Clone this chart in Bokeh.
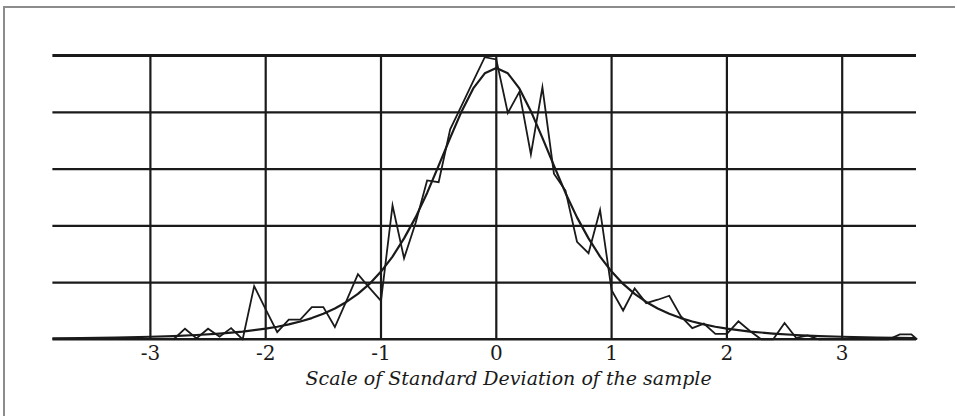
from bokeh.plotting import figure
from bokeh.models import Range1d, FixedTicker, Title, CustomJSTickFormatter
from bokeh.embed import file_html
from bokeh.resources import INLINE

# ---- data ----
tick_vals = [-3, -2, -1, 0, 1, 2, 3]
grid_levels = [0, 1, 2, 3, 4, 5]
x_left, x_right = -3.85, 3.64

# smooth theoretical curve (values read at these abscissae)
curve_x = [-3.85, -3.6, -3.3, -3.0, -2.8, -2.6, -2.4, -2.2, -2.0, -1.9, -1.8, -1.7, -1.6,
           -1.5, -1.4, -1.3, -1.2, -1.1, -1.0, -0.9, -0.8, -0.7, -0.6, -0.5, -0.4, -0.3,
           -0.2, -0.1, 0.0, 0.1, 0.2, 0.3, 0.4, 0.5, 0.6, 0.7, 0.8, 0.9, 1.0, 1.1, 1.2,
           1.3, 1.4, 1.5, 1.6, 1.7, 1.8, 1.9, 2.0, 2.2, 2.4, 2.6, 2.8, 3.0, 3.3, 3.64]
curve_y = [0.019, 0.025, 0.034, 0.048, 0.061, 0.079, 0.105, 0.140, 0.191, 0.225, 0.266,
           0.316, 0.377, 0.453, 0.546, 0.661, 0.803, 0.979, 1.195, 1.46, 1.78, 2.15, 2.58,
           3.06, 3.55, 4.02, 4.42, 4.686, 4.78, 4.686, 4.42, 4.02, 3.55, 3.06, 2.58, 2.15,
           1.78, 1.46, 1.195, 0.979, 0.803, 0.661, 0.546, 0.453, 0.377, 0.316, 0.266, 0.225,
           0.191, 0.140, 0.105, 0.079, 0.061, 0.048, 0.034, 0.024]

# observed frequencies (zig-zag polygon)
obs_x = [-2.8, -2.7, -2.6, -2.5, -2.4, -2.3, -2.2, -2.1, -2.0, -1.9, -1.8, -1.7, -1.6, -1.5,
         -1.4, -1.3, -1.2, -1.1, -1.0, -0.9, -0.8, -0.7, -0.6, -0.5, -0.4, -0.3, -0.2, -0.1,
         0.0, 0.1, 0.2, 0.3, 0.4, 0.5, 0.6, 0.7, 0.8, 0.9, 1.0, 1.1, 1.2, 1.3, 1.4, 1.5,
         1.6, 1.7, 1.8, 1.9, 2.0, 2.1, 2.2, 2.3, 2.4, 2.5, 2.6, 2.7, 2.8, 3.4, 3.5, 3.6, 3.65]
obs_y = [0.0, 0.19, 0.02, 0.19, 0.05, 0.20, 0.0, 0.94, 0.53, 0.13, 0.35, 0.35, 0.57, 0.57,
         0.22, 0.68, 1.15, 0.91, 0.68, 2.36, 1.43, 2.05, 2.80, 2.77, 3.70, 4.12, 4.55, 4.97,
         4.93, 3.99, 4.36, 3.26, 4.44, 2.92, 2.62, 1.72, 1.52, 2.28, 0.87, 0.51, 0.90, 0.64,
         0.70, 0.77, 0.41, 0.20, 0.28, 0.10, 0.10, 0.32, 0.15, 0.0, 0.0, 0.29, 0.03, 0.07,
         0.0, 0.0, 0.09, 0.09, 0.0]

x_title = "Scale of Standard Deviation of the sample"

# ---- figure ----
p = figure(width=952, height=410, output_backend="svg", toolbar_location=None,
           x_range=Range1d(-4.2567, 4.0), y_range=Range1d(-0.0176, 5.827),
           y_axis_location=None, min_border_left=0, min_border_right=0,
           min_border_top=0, min_border_bottom=78, background_fill_color="white",
           border_fill_color="white")
p.outline_line_color = None
p.xgrid.visible = False
p.ygrid.visible = False
p.margin = (6, 0, 0, 3)
p.styles = {"border-left": "2px solid #8c8c8c", "border-top": "2px solid #8c8c8c"}

ink = "#1a1a1a"
# vertical rules
p.segment(x0=tick_vals, y0=[grid_levels[0]] * len(tick_vals),
          x1=tick_vals, y1=[grid_levels[-1]] * len(tick_vals),
          line_color=ink, line_width=2.2)
# horizontal rules
p.segment(x0=[x_left] * len(grid_levels), y0=grid_levels,
          x1=[x_right] * len(grid_levels), y1=grid_levels,
          line_color=ink, line_width=[3, 2.2, 2.2, 2.2, 2.2, 3])

p.line(curve_x, curve_y, line_color=ink, line_width=2.2, line_join="round")
p.line(obs_x, obs_y, line_color=ink, line_width=1.8, line_join="miter")

ax = p.xaxis[0]
ax.ticker = FixedTicker(ticks=tick_vals)
ax.formatter = CustomJSTickFormatter(code="return String(tick);")
ax.axis_line_color = None
ax.major_tick_line_color = None
ax.minor_tick_line_color = None
ax.major_label_standoff = -2
ax.major_label_text_font = "DejaVu Serif"
ax.major_label_text_font_size = "20px"
ax.major_label_text_color = ink

title = Title(text=x_title, align="left", offset=300, standoff=5,
              text_font="DejaVu Serif", text_font_style="italic",
              text_font_size="19px", text_color=ink)
p.add_layout(title, "below")

open("out.html", "w").write(file_html(p, INLINE))
